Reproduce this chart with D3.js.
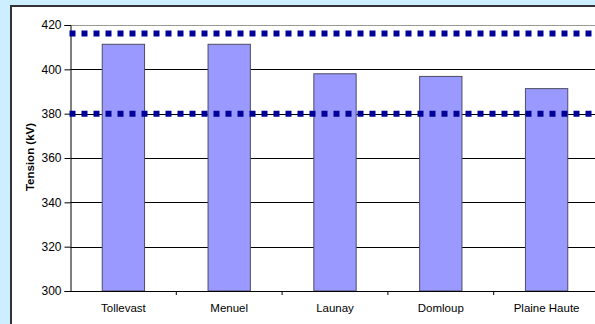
<!DOCTYPE html>
<html>
<head>
<meta charset="utf-8">
<script src="https://cdn.jsdelivr.net/npm/d3@7"></script>
<style>
  html, body { margin: 0; padding: 0; background: #cceeff; }
  svg { display: block; }
  text { font-family: "Liberation Sans", Arial, sans-serif; fill: #000; }
</style>
</head>
<body>
<svg id="chart" width="595" height="324"></svg>
<script>
// Substation voltages (kV)
const stations = ["Tollevast", "Menuel", "Launay", "Domloup", "Plaine Haute"];
const voltages = [411.3, 411.3, 398, 396.8, 391.3];
// Operating limits drawn as dotted reference lines
const limits = [416.2, 380];
const yTicks = [300, 320, 340, 360, 380, 400, 420];

const svg = d3.select("#chart");
const W = 595, H = 324;

// chart frame
svg.append("rect").attr("width", W).attr("height", H).attr("fill", "#cceeff");
svg.append("rect")
  .attr("x", 11).attr("y", 6).attr("width", W + 20).attr("height", H + 20)
  .attr("fill", "#ffffff").attr("stroke", "#333333").attr("stroke-width", 2);

const plotLeft = 70.5, plotTop = 25, plotBottom = 291;
const bandW = 105.8;
const x = d3.scaleBand().domain(stations)
  .range([plotLeft, plotLeft + bandW * stations.length])
  .paddingInner(0.6).paddingOuter(0.3);
const y = d3.scaleLinear().domain([300, 420]).range([plotBottom, plotTop]);

// horizontal gridlines
svg.append("g").selectAll("line").data(yTicks.filter(t => t > 300 && t < 420)).join("line")
  .attr("x1", plotLeft).attr("x2", W)
  .attr("y1", d => Math.round(y(d)) + 0.5).attr("y2", d => Math.round(y(d)) + 0.5)
  .attr("stroke", "#000").attr("stroke-width", 1);
// plot area top border
svg.append("line")
  .attr("x1", plotLeft).attr("x2", W)
  .attr("y1", Math.round(y(420)) + 0.5).attr("y2", Math.round(y(420)) + 0.5)
  .attr("stroke", "#999999").attr("stroke-width", 1);

// bars
svg.append("g").selectAll("rect").data(stations).join("rect")
  .attr("x", d => x(d))
  .attr("y", (d, i) => y(voltages[i]))
  .attr("width", x.bandwidth())
  .attr("height", (d, i) => y(300) - y(voltages[i]))
  .attr("fill", "#9999ff")
  .attr("stroke", "#4d4d66").attr("stroke-width", 1);

// y axis
const yAxis = d3.axisLeft(y).tickValues(yTicks).tickSize(6).tickPadding(3).tickFormat(d3.format("d"));
const gy = svg.append("g").attr("transform", `translate(${plotLeft},0)`).call(yAxis);
gy.select(".domain").attr("stroke", "#000");
gy.selectAll(".tick line").attr("stroke", "#000");
gy.selectAll("text").style("font-size", "12px").style("font-family", "Liberation Sans, Arial, sans-serif");

// x axis with ticks between categories
const gx = svg.append("g").attr("transform", `translate(0,${plotBottom})`);
gx.append("line").attr("x1", plotLeft).attr("x2", W).attr("y1", 0.5).attr("y2", 0.5).attr("stroke", "#000");
gx.selectAll("line.tk").data(d3.range(1, stations.length + 1)).join("line").attr("class", "tk")
  .attr("x1", i => plotLeft + i * bandW).attr("x2", i => plotLeft + i * bandW)
  .attr("y1", 0).attr("y2", 4).attr("stroke", "#000");
gx.selectAll("text").data(stations).join("text")
  .attr("x", d => x(d) + x.bandwidth() / 2)
  .attr("y", 20.5)
  .attr("text-anchor", "middle")
  .style("font-size", "11.5px")
  .text(d => d);

// dotted limit lines
svg.append("g").selectAll("line").data(limits).join("line")
  .attr("x1", plotLeft - 1).attr("x2", W)
  .attr("y1", d => y(d)).attr("y2", d => y(d))
  .attr("stroke", "#000099").attr("stroke-width", 6)
  .attr("stroke-dasharray", "6,6");

// axis title
svg.append("text")
  .attr("transform", "translate(34,157) rotate(-90)")
  .attr("text-anchor", "middle")
  .style("font-size", "11.5px").style("font-weight", "bold")
  .text("Tension (kV)");
</script>
</body>
</html>
